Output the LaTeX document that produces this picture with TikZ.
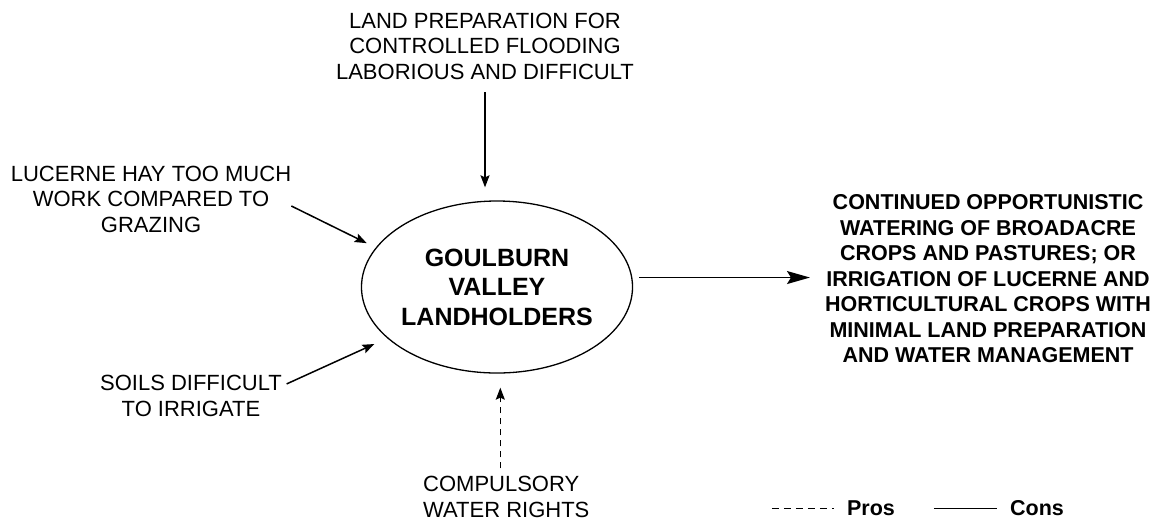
\documentclass[tikz,border=0pt]{standalone}
\usepackage{fontspec}
\setmainfont{Liberation Sans}
\usepackage{tikz}
\usetikzlibrary{arrows.meta,positioning,shapes.geometric}
\tikzset{
    %Define standard arrow tip
    >={Stealth[length=12pt,width=9pt,inset=2pt]},
    %Define style for texts
    cause/.style={
           align=center,
           inner sep=0pt,
           font=\fontsize{22}{25.5}\selectfont},
    result/.style={
           align=center,
           inner sep=0pt,
           font=\fontsize{21.5}{25.5}\selectfont\bfseries},
    actor/.style={
           ellipse,
           draw=black, line width=1.3pt,
           minimum width=270pt,
           minimum height=172pt,
           inner sep=0pt,
           align=center,
           font=\fontsize{25}{29.5}\selectfont\bfseries},
    % Define arrow styles
    con/.style={
           ->,
           line width=1.5pt},
    pro/.style={
           ->,
           line width=1.5pt,
           dash pattern=on 6pt off 5pt},
    big/.style={
           -{Stealth[length=23pt,width=13pt,inset=4pt]},
           line width=1.5pt},
    key/.style={
           -,
           line width=1pt}
}

\begin{document}
\begin{tikzpicture}[x=1pt,y=-1pt,node distance=13pt]
\useasboundingbox (0,0) rectangle (1166,523);
\node[actor](land) at (497,287){GOULBURN\\VALLEY\\LANDHOLDERS};
\node[cause](prep) at (485,46){LAND PREPARATION FOR\\CONTROLLED FLOODING\\LABORIOUS AND DIFFICULT};
\node[cause](hay) at (151,199){LUCERNE HAY TOO MUCH\\WORK COMPARED TO\\GRAZING};
\node[cause](soils) at (191,396){SOILS DIFFICULT\\TO IRRIGATE};
\node[cause, anchor=west, align=left](rights) at (423,497){COMPULSORY\\WATER RIGHTS};
\node[result](outcome) at (988,279){CONTINUED OPPORTUNISTIC\\WATERING OF BROADACRE\\CROPS AND PASTURES; OR\\IRRIGATION OF LUCERNE AND\\HORTICULTURAL CROPS WITH\\MINIMAL LAND PREPARATION\\AND WATER MANAGEMENT};

 \path
    (prep.south) edge [con, shorten <=13pt, shorten >=13pt] (prep.south |- land.north)
    ([yshift=-7pt]hay.east) edge [con, shorten >=10pt] (land.162)
    ([yshift=10pt]soils.east) edge [con, shorten <=5pt, shorten >=14pt] (land.205)
    ([xshift=-6pt]rights.north) edge [pro, shorten <=8pt, shorten >=14pt] ([xshift=-6pt]rights.north |- land.south)
    (land.4) edge [big, shorten <=7pt, shorten >=15pt] (land.4 -| outcome.west);

% legend
\node[result](pros) at (871,508){Pros};
\node[result](cons) at (1037,508){Cons};
\coordinate[left=13pt of pros](p2);
\coordinate[left=62pt of p2](p1);
\coordinate[left=13pt of cons](c2);
\coordinate[left=63pt of c2](c1);
\path
    (p1) edge [key, dash pattern=on 7pt off 5pt] (p2)
    (c1) edge [key] (c2);

\end{tikzpicture}
\end{document}
